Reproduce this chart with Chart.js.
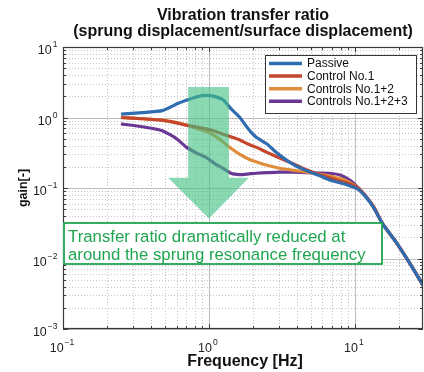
<!DOCTYPE html>
<html lang="en">
<head>
    <meta charset="UTF-8">
    <title>Vibration transfer ratio</title>
    <script src="https://cdnjs.cloudflare.com/ajax/libs/Chart.js/4.4.0/chart.umd.min.js"></script>
    <style>
        body {
            margin: 0;
            background: white;
        }
        .chart-box {
            width: 424px;
            height: 372px;
        }
    </style>
</head>
<body>
    <div class="chart-box">
        <canvas id="gainChart"></canvas>
    </div>

    <script>
        // values
        const freq = [0.25, 0.35, 0.48, 0.6, 0.7, 0.83, 0.96, 1.1, 1.25, 1.43, 1.63, 1.85, 2.1, 2.5, 3, 3.8, 4.7, 5.7, 6.7, 8, 9.2, 10.5, 12, 13.5, 15.5, 19, 24, 29.3];
        const passive = [1.12, 1.17, 1.25, 1.55, 1.75, 1.97, 2.06, 1.98, 1.78, 1.3, 1.0, 0.7, 0.53, 0.42, 0.3, 0.215, 0.175, 0.15, 0.13, 0.118, 0.108, 0.096, 0.073, 0.052, 0.031, 0.0175, 0.0083, 0.0042];
        const control1 = [1.0, 0.96, 0.91, 0.84, 0.78, 0.73, 0.69, 0.64, 0.58, 0.53, 0.48, 0.42, 0.38, 0.32, 0.27, 0.22, 0.18, 0.155, 0.14, 0.125, 0.115, 0.099, 0.074, 0.053, 0.031, 0.0175, 0.0083, 0.0042];
        const control12 = [1.0, 0.96, 0.92, 0.85, 0.78, 0.7, 0.63, 0.55, 0.45, 0.36, 0.3, 0.26, 0.235, 0.21, 0.192, 0.178, 0.168, 0.158, 0.148, 0.135, 0.12, 0.1, 0.074, 0.053, 0.031, 0.0175, 0.0083, 0.0042];
        const control123 = [0.81, 0.74, 0.65, 0.5, 0.38, 0.31, 0.27, 0.22, 0.19, 0.16, 0.155, 0.158, 0.162, 0.165, 0.168, 0.168, 0.165, 0.163, 0.162, 0.152, 0.13, 0.102, 0.075, 0.053, 0.031, 0.0175, 0.0083, 0.0042];

        const seriesNames = ['Passive', 'Control No.1', 'Controls No.1+2', 'Controls No.1+2+3'];
        const seriesColors = ['#2f6cb0', '#c4462b', '#df8d3c', '#6a3794'];

        const xDecades = [-1, 0, 1];
        const yDecades = [-3, -2, -1, 0, 1];
        const noteLines = ['Transfer ratio dramatically reduced at', 'around the sprung resonance frequency'];

        const FONT = '"Liberation Sans", Arial, Helvetica, sans-serif';

        function pts(values) {
            return freq.map((f, i) => ({ x: f, y: values[i] }));
        }

        // draws 10 with a raised exponent
        function drawPow(ctx, exp, x, y, align) {
            const base = '10';
            const sup = exp < 0 ? '\u2212' + Math.abs(exp) : String(exp);
            ctx.font = '12.5px ' + FONT;
            const w1 = ctx.measureText(base).width;
            ctx.font = '8.5px ' + FONT;
            const w2 = ctx.measureText(sup).width;
            let start = x - w1 - w2 - 1;
            if (align === 'center') start = x - (w1 + w2 + 1) / 2;
            ctx.fillStyle = '#222';
            ctx.textAlign = 'left';
            ctx.textBaseline = 'alphabetic';
            ctx.font = '12.5px ' + FONT;
            ctx.fillText(base, start, y);
            ctx.font = '8.5px ' + FONT;
            ctx.fillText(sup, start + w1 + 1, y - 7);
        }

        const decor = {
            id: 'decor',
            beforeDatasetsDraw(chart) {
                const { ctx, chartArea: a, scales: { x, y } } = chart;
                ctx.save();
                ctx.lineWidth = 1;
                // minor grid
                ctx.strokeStyle = '#c4c4c4';
                ctx.setLineDash([1, 2]);
                xDecades.forEach(d => {
                    for (let k = 2; k <= 9; k++) {
                        const v = k * Math.pow(10, d);
                        if (v >= x.max) continue;
                        const px = Math.round(x.getPixelForValue(v)) + 0.5;
                        ctx.beginPath(); ctx.moveTo(px, a.top); ctx.lineTo(px, a.bottom); ctx.stroke();
                    }
                });
                yDecades.forEach(d => {
                    for (let k = 2; k <= 9; k++) {
                        const v = k * Math.pow(10, d);
                        if (v >= y.max) continue;
                        const py = Math.round(y.getPixelForValue(v)) + 0.5;
                        ctx.beginPath(); ctx.moveTo(a.left, py); ctx.lineTo(a.right, py); ctx.stroke();
                    }
                });
                // major grid
                ctx.setLineDash([]);
                ctx.strokeStyle = '#bdbdbd';
                xDecades.forEach(d => {
                    const px = Math.round(x.getPixelForValue(Math.pow(10, d))) + 0.5;
                    ctx.beginPath(); ctx.moveTo(px, a.top); ctx.lineTo(px, a.bottom); ctx.stroke();
                });
                yDecades.forEach(d => {
                    const py = Math.round(y.getPixelForValue(Math.pow(10, d))) + 0.5;
                    ctx.beginPath(); ctx.moveTo(a.left, py); ctx.lineTo(a.right, py); ctx.stroke();
                });
                ctx.restore();
            },
            afterDatasetsDraw(chart) {
                const { ctx, chartArea: a, scales: { x, y } } = chart;
                ctx.save();

                // big translucent arrow
                const sx0 = x.getPixelForValue(0.72), sx1 = x.getPixelForValue(1.37);
                const hx0 = x.getPixelForValue(0.525), hx1 = x.getPixelForValue(1.88);
                const tipX = x.getPixelForValue(1);
                const top = y.getPixelForValue(2.7), neck = y.getPixelForValue(0.14), tip = y.getPixelForValue(0.037);
                ctx.fillStyle = 'rgba(66, 194, 130, 0.62)';
                ctx.beginPath();
                ctx.moveTo(sx0, top); ctx.lineTo(sx1, top); ctx.lineTo(sx1, neck);
                ctx.lineTo(hx1, neck); ctx.lineTo(tipX, tip); ctx.lineTo(hx0, neck);
                ctx.lineTo(sx0, neck); ctx.closePath();
                ctx.fill();

                // plot frame and inner ticks
                ctx.strokeStyle = '#3a3a3a';
                ctx.lineWidth = 1.2;
                ctx.strokeRect(a.left + 0.5, a.top + 0.5, a.right - a.left - 1, a.bottom - a.top - 1);
                ctx.lineWidth = 1;
                xDecades.forEach(d => {
                    for (let k = 1; k <= 9; k++) {
                        const v = k * Math.pow(10, d);
                        if (v >= x.max) continue;
                        const px = Math.round(x.getPixelForValue(v)) + 0.5;
                        const len = k === 1 ? 5 : 3;
                        ctx.beginPath();
                        ctx.moveTo(px, a.bottom); ctx.lineTo(px, a.bottom - len);
                        ctx.moveTo(px, a.top); ctx.lineTo(px, a.top + len);
                        ctx.stroke();
                    }
                });
                yDecades.forEach(d => {
                    for (let k = 1; k <= 9; k++) {
                        const v = k * Math.pow(10, d);
                        if (v > y.max) continue;
                        const py = Math.round(y.getPixelForValue(v)) + 0.5;
                        const len = k === 1 ? 5 : 3;
                        ctx.beginPath();
                        ctx.moveTo(a.left, py); ctx.lineTo(a.left + len, py);
                        ctx.moveTo(a.right, py); ctx.lineTo(a.right - len, py);
                        ctx.stroke();
                    }
                });

                // tick labels
                yDecades.forEach(d => drawPow(ctx, d, a.left - 5.5, y.getPixelForValue(Math.pow(10, d)) + 7, 'right'));
                xDecades.forEach(d => drawPow(ctx, d, x.getPixelForValue(Math.pow(10, d)) - 1, 352, 'center'));

                // titles
                const cx = (a.left + a.right) / 2;
                ctx.fillStyle = '#111';
                ctx.textAlign = 'center';
                ctx.textBaseline = 'alphabetic';
                ctx.font = 'bold 16px ' + FONT;
                ctx.fillText('Vibration transfer ratio', cx, 20);
                ctx.fillText('(sprung displacement/surface displacement)', cx, 36);
                ctx.fillText('Frequency [Hz]', cx + 2, 366);
                ctx.save();
                ctx.translate(27, (a.top + a.bottom) / 2);
                ctx.rotate(-Math.PI / 2);
                ctx.font = 'bold 12.5px ' + FONT;
                ctx.fillText('gain[-]', 0, 0);
                ctx.restore();

                // legend box
                ctx.fillStyle = 'white';
                ctx.fillRect(265, 55, 151, 58);
                ctx.strokeStyle = '#333';
                ctx.lineWidth = 1;
                ctx.strokeRect(265.5, 55.5, 151, 58);
                ctx.font = '12px ' + FONT;
                ctx.textAlign = 'left';
                ctx.textBaseline = 'middle';
                seriesNames.forEach((name, i) => {
                    const ly = 63.5 + i * 12.6;
                    ctx.strokeStyle = seriesColors[i];
                    ctx.lineWidth = 3.5;
                    ctx.beginPath(); ctx.moveTo(269, ly); ctx.lineTo(302, ly); ctx.stroke();
                    ctx.fillStyle = '#111';
                    ctx.fillText(name, 307, ly + 0.5);
                });

                // note box
                ctx.fillStyle = 'white';
                ctx.fillRect(a.left, 223, 319, 41);
                ctx.strokeStyle = '#1fa54f';
                ctx.lineWidth = 1.8;
                ctx.strokeRect(a.left + 1, 223, 318, 41);
                ctx.fillStyle = '#1fa54f';
                ctx.font = '16.8px ' + FONT;
                ctx.textBaseline = 'alphabetic';
                ctx.fillText(noteLines[0], 68, 241.5);
                ctx.fillText(noteLines[1], 68, 259.5);

                ctx.restore();
            }
        };

        new Chart(document.getElementById('gainChart'), {
            type: 'line',
            data: {
                datasets: [passive, control1, control12, control123].map((vals, i) => ({
                    label: seriesNames[i],
                    data: pts(vals),
                    borderColor: seriesColors[i],
                    borderWidth: 3.2,
                    pointRadius: 0,
                    tension: 0.15,
                    fill: false
                }))
            },
            options: {
                responsive: true,
                maintainAspectRatio: false,
                animation: false,
                layout: {
                    padding: { left: 63, right: 1, top: 47, bottom: 43 }
                },
                scales: {
                    x: { type: 'logarithmic', min: 0.1, max: 29.3, display: false },
                    y: { type: 'logarithmic', min: 0.001, max: 10, display: false }
                },
                plugins: {
                    legend: { display: false },
                    tooltip: { enabled: false }
                }
            },
            plugins: [decor]
        });
    </script>
</body>
</html>
